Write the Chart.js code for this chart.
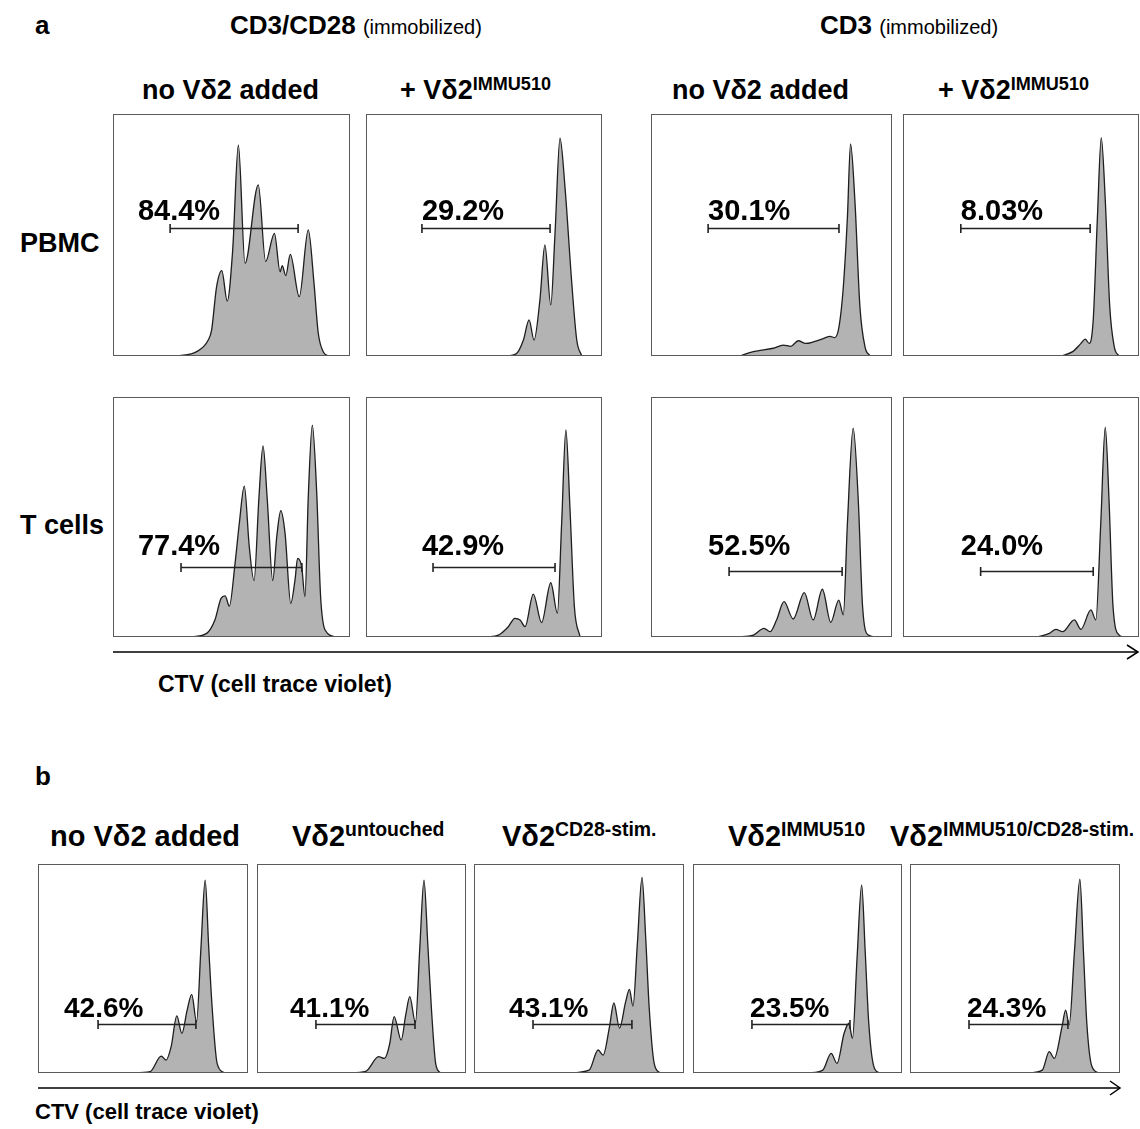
<!DOCTYPE html>
<html><head><meta charset="utf-8">
<script src="https://cdn.jsdelivr.net/npm/chart.js@4"></script>
<style>
html,body{margin:0;padding:0;background:#fff;}
body{width:1140px;height:1129px;position:relative;overflow:hidden;font-family:"Liberation Sans",Arial,sans-serif;color:#000;}
.t{position:absolute;font-weight:bold;white-space:nowrap;line-height:1;transform:translateY(-50%);}
.n{font-weight:normal;}
.sup{font-size:0.67em;position:relative;top:-0.5em;}
canvas{position:absolute;}
svg{position:absolute;left:0;top:0;}
</style></head><body>

<div class="t" style="left:35px;top:25px;font-size:26px;">a</div>
<div class="t" style="left:230px;top:25px;font-size:26px;">CD3/CD28 <span class="n" style="font-size:20px;">(immobilized)</span></div>
<div class="t" style="left:820px;top:25px;font-size:26px;">CD3 <span class="n" style="font-size:20px;">(immobilized)</span></div>

<div class="t" style="left:142px;top:90px;font-size:27px;">no Vδ2 added</div>
<div class="t" style="left:400px;top:90px;font-size:27px;">+ Vδ2<span class="sup">IMMU510</span></div>
<div class="t" style="left:672px;top:90px;font-size:27px;">no Vδ2 added</div>
<div class="t" style="left:938px;top:90px;font-size:27px;">+ Vδ2<span class="sup">IMMU510</span></div>

<div class="t" style="left:20px;top:243px;font-size:27px;">PBMC</div>
<div class="t" style="left:20px;top:525px;font-size:27px;">T cells</div>
<div class="t" style="left:158px;top:684px;font-size:23px;">CTV (cell trace violet)</div>

<div class="t" style="left:35px;top:776px;font-size:26px;">b</div>
<div class="t" style="left:50px;top:836px;font-size:29px;">no Vδ2 added</div>
<div class="t" style="left:292px;top:836px;font-size:29px;">Vδ2<span class="sup">untouched</span></div>
<div class="t" style="left:502px;top:836px;font-size:29px;">Vδ2<span class="sup">CD28-stim.</span></div>
<div class="t" style="left:728px;top:836px;font-size:29px;">Vδ2<span class="sup">IMMU510</span></div>
<div class="t" style="left:890px;top:836px;font-size:29px;">Vδ2<span class="sup">IMMU510/CD28-stim.</span></div>
<div class="t" style="left:35px;top:1112px;font-size:22px;">CTV (cell trace violet)</div>

<svg width="1140" height="1129">
  <g stroke="#000" stroke-width="1.5" fill="none">
    <line x1="113" y1="652" x2="1138" y2="652"/>
    <polyline points="1127,645 1138,652 1127,659"/>
    <line x1="38" y1="1088" x2="1120" y2="1088"/>
    <polyline points="1110,1081 1120,1088 1110,1095"/>
  </g>
</svg>

<script>
// ---- DATA: CTV intensity (0-100 across plotted range) and relative cell count (% of panel height)
// Panel a, PBMC, CD3/CD28, no Vd2 added
const pbmcCd28NoVdX = [26.9,35.3,40.2,41.6,43.7,45.9,48.2,50.5,52.9,55.7,61.3,64.4,68.1,70.5,71.4,72.9,74.8,78.6,82.4,84.8,86.6,88.7,90.8];
const pbmcCd28NoVdY = [0,1.8,6.6,10.7,28.6,35.3,22.7,43.8,87.2,38.3,70.7,39.0,50.7,34.8,37.3,33.2,42.0,24.5,52.1,30.2,9.5,1.8,0];
// Panel a, PBMC, CD3/CD28, + Vd2 IMMU510
const pbmcCd28ImmuX = [60.0,63.8,66.7,69.1,71.2,73.7,75.8,78.3,80.1,82.2,84.3,87.2,89.3,91.4];
const pbmcCd28ImmuY = [0,1.0,6.6,14.9,6.6,23.2,45.9,21.1,50.8,90.0,70.0,30.0,6.6,0];
// Panel a, PBMC, CD3, no Vd2 added
const pbmcCd3NoVdX = [36.9,42.5,50.7,54.9,58.0,61.1,64.2,67.3,71.5,74.3,76.3,78.0,79.8,81.5,82.8,84.6,86.7,88.8,90.9];
const pbmcCd3NoVdY = [0,1.8,3.2,4.5,4.0,6.3,5.2,5.8,7.2,8.1,7.6,12.0,28.5,57.4,87.6,64.3,20.2,3.8,0];
// Panel a, PBMC, CD3, + Vd2 IMMU510
const pbmcCd3ImmuX = [67.0,71.9,75.4,77.2,78.9,80.6,82.4,84.0,85.7,87.6,89.5,91.6];
const pbmcCd3ImmuY = [0,1.8,5.2,7.0,5.2,14.9,57.8,90.2,64.6,20.5,3.9,0];
// Panel a, T cells, CD3/CD28, no Vd2 added
const tCd28NoVdX = [33.2,39.5,43.0,45.6,47.3,49.1,51.5,53.3,55.4,57.5,59.5,61.6,63.3,65.1,67.4,69.1,70.8,72.6,75.0,76.8,77.9,79.6,81.0,82.4,84.1,85.9,87.6,89.5,94.4];
const tCd28NoVdY = [0,1.5,7.1,16.1,17.1,12.9,30.7,47.4,62.9,37.6,23.5,58.5,79.6,57.1,23.5,41.8,52.6,43.2,14.0,23.8,32.8,29.3,16.8,58.5,88.3,61.3,16.8,2.9,0];
// Panel a, T cells, CD3/CD28, + Vd2 IMMU510
const tCd28ImmuX = [51.1,56.1,60.3,63.1,65.3,67.4,70.9,74.4,78.3,81.1,82.9,84.7,86.4,88.3,90.7];
const tCd28ImmuY = [0,0.8,4.3,7.8,7.1,4.3,17.9,6.0,22.6,9.9,47.4,86.3,54.3,12.6,0];
// Panel a, T cells, CD3, no Vd2 added
const tCd3NoVdX = [35.6,42.5,46.9,49.4,52.1,55.2,59.0,63.6,67.3,71.1,74.6,77.9,79.8,81.5,83.9,86.0,87.8,90.2,93.7];
const tCd3NoVdY = [0,0.8,3.6,2.2,7.1,14.7,7.5,18.5,7.1,19.9,6.1,15.4,9.2,47.4,87.0,57.1,12.6,0.8,0];
// Panel a, T cells, CD3, + Vd2 IMMU510
const tCd3ImmuX = [57.1,62.0,64.8,67.6,72.6,75.4,79.6,81.7,83.8,85.7,87.3,89.0,91.6,93.7];
const tCd3ImmuY = [0,1.5,3.2,2.2,7.1,3.2,11.3,7.1,47.4,87.4,57.1,12.6,0.8,0];
// Panel b
const bNoVdX = [44.9,53.3,58.7,61.0,63.4,66.1,68.5,71.0,73.2,75.5,77.6,79.6,81.3,82.9,85.3,88.7];
const bNoVdY = [0,0.6,8.1,6.2,12.6,27.3,19.0,30.0,37.6,24.5,60.0,92.3,60.0,31.7,4.6,0];
const bUntouchedX = [43.6,52.0,58.2,61.0,63.5,65.6,69.0,71.2,73.1,75.8,77.9,79.9,81.7,83.5,85.5,87.7];
const bUntouchedY = [0,0.8,7.8,7.0,14.0,27.0,15.8,28.0,36.5,24.0,60.0,92.3,62.0,30.0,4.5,0];
const bCd28StimX = [44.6,54.8,59.1,61.5,64.5,66.6,69.3,72.2,74.0,75.7,77.8,80.0,81.8,83.4,85.8,88.5];
const bCd28StimY = [0,1.4,11.0,8.6,22.0,33.5,21.5,34.0,40.0,32.0,62.0,93.6,64.0,31.7,4.6,0];
const bImmuX = [55.3,62.1,66.1,68.9,72.3,74.6,76.3,78.5,80.7,82.4,84.1,86.5,89.2];
const bImmuY = [0,1.4,9.4,4.6,19.0,23.8,16.6,55.0,90.0,58.0,23.8,3.2,0];
const bImmuCd28X = [56.2,63.0,66.3,68.7,72.4,74.1,75.8,78.3,80.9,82.6,84.2,86.6,90.0];
const bImmuCd28Y = [0,1.4,10.2,7.0,22.2,30.1,23.0,58.0,92.7,58.0,23.8,3.2,0];

// Gates (CTV range of divided cells) and their percentages
const gatePercent = ['84.4%','29.2%','30.1%','8.03%','77.4%','42.9%','52.5%','24.0%','42.6%','41.1%','43.1%','23.5%','24.3%'];
const gateFrom  = [24.1,23.7,23.7,24.5, 28.7,28.4,32.4,32.9, 28.6,28.2,28.1,28.2,28.1];
const gateTo    = [78.1,78.0,78.0,79.3, 79.7,80.1,79.3,80.6, 75.2,75.6,75.2,75.1,75.2];
const gateLevel = [52.9,52.9,52.7,52.7, 29.2,29.2,27.5,27.5, 23.4,23.4,23.4,23.4,23.4];
const labelX    = [10.5,23.7,23.7,24.5, 10.5,23.7,23.7,24.5, 12.4,15.8,16.7,27.3,27.1];
const labelY    = [56.2,56.2,56.4,56.4, 34.2,34.2,34.2,34.2, 26.8,26.8,26.8,26.8,26.8];

const seriesX = [pbmcCd28NoVdX,pbmcCd28ImmuX,pbmcCd3NoVdX,pbmcCd3ImmuX,tCd28NoVdX,tCd28ImmuX,tCd3NoVdX,tCd3ImmuX,bNoVdX,bUntouchedX,bCd28StimX,bImmuX,bImmuCd28X];
const seriesY = [pbmcCd28NoVdY,pbmcCd28ImmuY,pbmcCd3NoVdY,pbmcCd3ImmuY,tCd28NoVdY,tCd28ImmuY,tCd3NoVdY,tCd3ImmuY,bNoVdY,bUntouchedY,bCd28StimY,bImmuY,bImmuCd28Y];

// ---- LAYOUT (pixel boxes of panels)
const boxes = [
  [113,114,237,242],[366,114,236,242],[651,114,241,242],[903,114,236,242],
  [113,397,237,240],[366,397,236,240],[651,397,241,240],[903,397,236,240],
  [38,864,210,209],[257,864,209,209],[474,864,210,209],[693,864,209,209],[910,864,210,209]
];

const framePlugin = {
  id:'frame',
  afterDraw(chart){
    const {ctx, chartArea:a} = chart;
    ctx.save();
    ctx.strokeStyle = '#5a5a5a';
    ctx.lineWidth = 1;
    ctx.strokeRect(a.left+0.5, a.top+0.5, a.right-a.left-1, a.bottom-a.top-1);
    ctx.restore();
  }
};
const gatePlugin = {
  id:'gate',
  afterDatasetsDraw(chart, args, opts){
    const i = opts.index;
    const {ctx, scales:{x,y}} = chart;
    const x1 = x.getPixelForValue(gateFrom[i]), x2 = x.getPixelForValue(gateTo[i]);
    const yy = Math.round(y.getPixelForValue(gateLevel[i])) + 0.5;
    ctx.save();
    ctx.strokeStyle = '#222';
    ctx.lineWidth = 1.6;
    ctx.beginPath();
    ctx.moveTo(x1, yy); ctx.lineTo(x2, yy);
    ctx.moveTo(x1, yy-4.5); ctx.lineTo(x1, yy+4.5);
    ctx.moveTo(x2, yy-4.5); ctx.lineTo(x2, yy+4.5);
    ctx.stroke();
    ctx.fillStyle = '#000';
    ctx.font = 'bold ' + (i < 8 ? 29 : 28) + 'px "Liberation Sans", Arial, sans-serif';
    ctx.textBaseline = 'alphabetic';
    ctx.textAlign = 'left';
    ctx.fillText(gatePercent[i], x.getPixelForValue(labelX[i]), y.getPixelForValue(labelY[i]));
    ctx.restore();
  }
};

boxes.forEach((b, i) => {
  const c = document.createElement('canvas');
  c.width = b[2]; c.height = b[3];
  c.style.left = b[0] + 'px'; c.style.top = b[1] + 'px';
  c.style.width = b[2] + 'px'; c.style.height = b[3] + 'px';
  document.body.appendChild(c);
  new Chart(c, {
    type: 'line',
    data: { datasets: [{
      data: seriesX[i].map((v, k) => ({x: v, y: seriesY[i][k]})),
      fill: 'origin',
      backgroundColor: '#b3b3b3',
      borderColor: '#1e1e1e',
      borderWidth: 1.3,
      pointRadius: 0,
      cubicInterpolationMode: 'monotone'
    }]},
    options: {
      animation: false, responsive: false, events: [],
      devicePixelRatio: 1,
      layout: { padding: 0 },
      plugins: { legend: {display:false}, tooltip: {enabled:false}, gate: {index: i} },
      scales: {
        x: { type:'linear', min:0, max:100, display:false },
        y: { type:'linear', min:0, max:100, display:false }
      }
    },
    plugins: [framePlugin, gatePlugin]
  });
});
</script>
</body></html>
